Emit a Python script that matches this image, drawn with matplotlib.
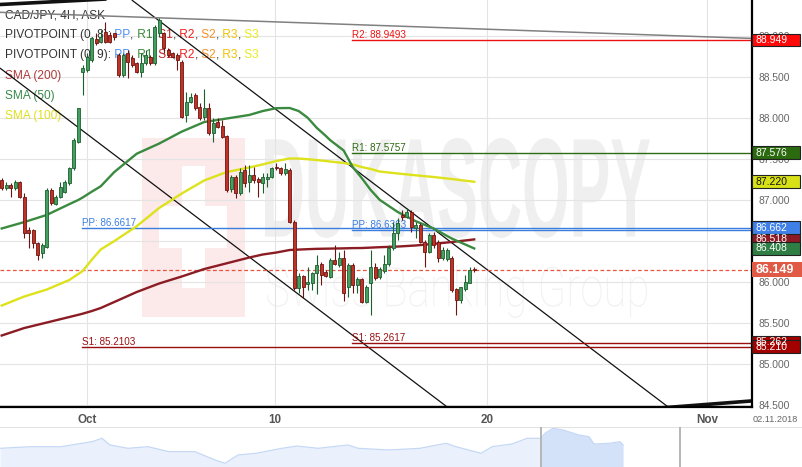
import matplotlib
matplotlib.use('Agg')
from matplotlib import pyplot as plt
from matplotlib.patches import Rectangle, PathPatch
from matplotlib.textpath import TextPath
from matplotlib.font_manager import FontProperties
from matplotlib.transforms import Affine2D, blended_transform_factory
import numpy as np


####################################################################################################
#                                             Setting                                              #
####################################################################################################
plt.rcParams['font.family'] = ['Liberation Sans', 'DejaVu Sans']

W, H = 803, 467
PLOT_R, PLOT_B = 752, 407


####################################################################################################
#                                             Variable                                             #
####################################################################################################
# CAD/JPY 4H candles (one entry per candle)
opens = [87.242, 87.140, 87.181, 87.140, 87.221, 87.039, 86.633, 86.633, 86.478, 86.348,
         86.429, 87.120, 86.949, 87.039, 87.100, 87.201, 87.384, 87.709, 88.562, 88.582,
         88.704, 88.956, 88.927, 89.049, 89.009, 89.029, 88.765, 88.521, 88.785, 88.724,
         88.663, 88.562, 88.663, 88.745, 88.663, 89.029, 89.029, 88.826, 88.785, 88.765,
         88.684, 88.034, 88.196, 88.277, 88.135, 88.005, 88.115, 87.810, 87.953, 87.900,
         87.778, 87.128, 87.282, 87.087, 87.364, 87.221, 87.303, 87.250, 87.201, 87.250,
         87.282, 87.404, 87.384, 87.323, 87.364, 86.734, 85.922, 86.072, 85.974, 85.991,
         86.110, 86.218, 86.124, 86.063, 86.267, 86.206, 86.291, 85.942, 86.206, 85.962,
         86.035, 85.759, 85.987, 86.182, 86.060, 86.137, 86.218, 86.413, 86.596, 86.815,
         86.795, 86.855, 86.657, 86.693, 86.490, 86.368, 86.572, 86.490, 86.291, 86.279,
         86.291, 85.914, 85.779, 85.914, 85.990, 86.160]
highs = [87.262, 87.221, 87.201, 87.242, 87.225, 87.079, 86.673, 86.640, 86.490, 86.470,
         87.140, 87.140, 87.059, 87.221, 87.242, 87.404, 87.749, 88.120, 88.643, 88.785,
         88.988, 89.029, 89.069, 89.171, 89.049, 89.035, 88.785, 88.785, 88.826, 88.765,
         88.684, 88.785, 88.826, 88.765, 89.130, 89.212, 89.049, 88.846, 88.805, 88.785,
         88.704, 88.318, 88.298, 88.298, 88.176, 88.347, 88.176, 87.993, 87.993, 87.973,
         87.790, 87.303, 87.303, 87.384, 87.425, 87.425, 87.404, 87.282, 87.323, 87.323,
         87.404, 87.445, 87.404, 87.453, 87.384, 86.754, 86.104, 86.084, 86.186, 86.125,
         86.330, 86.246, 86.145, 86.291, 86.450, 86.368, 86.389, 86.230, 86.230, 86.063,
         86.048, 85.962, 86.389, 86.230, 86.185, 86.328, 86.450, 86.734, 86.779, 86.876,
         86.901, 86.876, 86.734, 86.718, 86.511, 86.596, 86.612, 86.511, 86.429, 86.413,
         86.316, 85.926, 85.942, 86.084, 86.182, 86.182]
lows = [87.120, 87.120, 87.039, 87.120, 87.018, 86.531, 86.409, 86.409, 86.267, 86.287,
        86.409, 86.937, 86.937, 87.018, 87.079, 87.181, 87.364, 87.689, 88.277, 88.562,
        88.684, 88.887, 88.907, 88.907, 88.907, 88.948, 88.501, 88.501, 88.481, 88.623,
        88.541, 88.501, 88.643, 88.643, 88.643, 88.988, 88.785, 88.745, 88.724, 88.582,
        87.993, 87.953, 88.176, 88.095, 87.973, 87.973, 87.790, 87.709, 87.871, 87.749,
        87.100, 87.100, 87.018, 87.059, 87.161, 87.100, 87.201, 87.039, 87.087, 87.161,
        87.262, 87.364, 87.303, 87.303, 86.714, 85.901, 85.861, 85.800, 85.901, 85.901,
        85.850, 85.962, 86.060, 86.048, 86.206, 86.185, 85.771, 85.820, 85.865, 85.865,
        85.743, 85.743, 85.597, 86.023, 86.035, 86.112, 86.194, 86.389, 86.511, 86.754,
        86.779, 86.612, 86.535, 86.474, 86.185, 86.352, 86.413, 86.246, 86.267, 86.259,
        85.881, 85.597, 85.743, 85.893, 85.987, 86.121]
closes = [87.140, 87.181, 87.140, 87.221, 87.039, 86.592, 86.592, 86.470, 86.328, 86.450,
          87.120, 86.957, 87.039, 87.161, 87.221, 87.384, 87.729, 88.115, 88.602, 88.745,
          88.968, 88.907, 88.988, 88.927, 88.927, 88.988, 88.521, 88.765, 88.684, 88.643,
          88.562, 88.663, 88.765, 88.663, 89.110, 89.191, 88.846, 88.765, 88.745, 88.704,
          88.013, 88.196, 88.257, 88.115, 87.993, 88.115, 87.810, 87.932, 87.892, 87.770,
          87.120, 87.282, 87.079, 87.343, 87.201, 87.303, 87.242, 87.221, 87.274, 87.282,
          87.384, 87.384, 87.323, 87.372, 86.734, 85.922, 86.072, 85.942, 86.003, 86.113,
          86.210, 86.084, 86.072, 86.267, 86.218, 86.291, 85.865, 86.206, 85.962, 86.035,
          85.759, 85.938, 86.182, 86.048, 86.157, 86.218, 86.413, 86.596, 86.718, 86.795,
          86.855, 86.673, 86.693, 86.490, 86.368, 86.572, 86.450, 86.291, 86.389, 86.389,
          85.901, 85.779, 85.938, 86.002, 86.145, 86.149]

# moving averages, read at these candle numbers
sma_idx = [0, 5, 10, 15, 17, 18, 20, 22, 25, 30, 35, 40, 45, 50, 55, 58, 61, 64, 66, 68, 70, 72,
           73, 76, 78, 80, 82, 84, 88, 92, 96, 100, 105]
sma50 = [86.651, 86.729, 86.816, 86.947, 86.998, 87.029, 87.099, 87.165, 87.338, 87.562, 87.686,
         87.831, 87.948, 87.991, 88.034, 88.082, 88.117, 88.119, 88.082, 88.000, 87.878, 87.780,
         87.727, 87.601, 87.400, 87.266, 87.120, 87.000, 86.852, 86.740, 86.651, 86.529, 86.408]
sma100 = [85.712, 85.822, 85.907, 86.023, 86.096, 86.133, 86.269, 86.395, 86.497, 86.679, 86.901,
          87.077, 87.236, 87.339, 87.394, 87.431, 87.473, 87.504, 87.503, 87.495, 87.485, 87.473,
          87.467, 87.449, 87.431, 87.400, 87.376, 87.345, 87.321, 87.299, 87.278, 87.254, 87.220]
sma200 = [85.347, 85.438, 85.505, 85.572, 85.599, 85.613, 85.645, 85.682, 85.755, 85.877, 85.981,
          86.066, 86.157, 86.227, 86.297, 86.334, 86.358, 86.389, 86.394, 86.399, 86.403, 86.405,
          86.406, 86.409, 86.412, 86.413, 86.418, 86.423, 86.431, 86.444, 86.464, 86.486, 86.518]

# pivot points (weekly sets)
pivot_start = [17.8, 77.8]
pivot_names = [['PP', 'S1'], ['R2', 'R1', 'PP', 'S1']]
pivot_values = [[86.6617, 85.2103], [88.9493, 87.5757, 86.6363, 85.2617]]

# hand drawn trend lines (candle number, price)
channel_upper = [(28.9, 89.435), (148.1, 84.476)]
channel_lower = [(-0.4, 88.606), (99.0, 84.476)]
top_line = [(-0.4, 89.285), (166.7, 88.967)]
thick_top = [(-0.4, 89.380), (25.0, 89.452)]
thick_bottom = [(141.9, 84.445), (166.7, 84.550)]

last_price = 86.149

tick_pos = [19, 60.7, 107.9, 156.7]
tick_labels = ['Oct', '10', '20', 'Nov']
y_ticks = [84.5, 85.0, 85.5, 86.0, 86.5, 87.0, 87.5, 88.0, 88.5, 89.0]

# price tags on the right axis
tag_values = [88.949, 87.576, 87.220, 85.262, 85.210, 86.518, 86.662, 86.408]
tag_colors = ['#ff0a0a', '#2b6a0e', '#d8e016', '#a30000', '#a30000', '#8b1a24', '#3e80e8', '#2f7f45']
tag_text = ['white', 'white', '#111111', 'white', 'white', 'white', 'white', 'white']

# navigator (overview) series
nav_t = [0, 31, 61, 92, 102, 110, 128, 148, 169, 195, 215, 225, 238, 256, 282, 297, 318, 348, 358,
         389, 420, 446, 456, 481, 492, 512, 527, 541, 545, 553, 563, 579, 589, 594, 609, 620, 623]
nav_v = [18.7, 20.3, 20.3, 25.3, 28.7, 22.0, 18.7, 20.3, 15.3, 15.3, 7.0, 3.7, 12.0, 13.7, 18.7,
         21.0, 18.7, 22.0, 18.7, 17.0, 18.7, 23.7, 20.3, 13.7, 20.3, 23.0, 28.7, 28.7, 33.7, 38.7,
         37.0, 32.0, 30.3, 23.0, 23.7, 25.3, 22.0]


####################################################################################################
#                                             Function                                             #
####################################################################################################
def stamp(ax, text, box, prop, color):
    # squeeze a text outline into a pixel box (left, top, right, bottom)
    x0, y0, x1, y1 = box
    tp = TextPath((0, 0), text, size=100, prop=prop)
    ext = tp.get_extents()
    tr = Affine2D().translate(-ext.x0, -ext.y0).scale((x1 - x0) / ext.width,
                                                       -(y1 - y0) / ext.height).translate(x0, y1)
    ax.add_patch(PathPatch(tr.transform_path(tp), fc=color, ec='none', zorder=0))


def colored_line(ax, fig, renderer, x_px, y_px, parts, size):
    x = x_px / W
    for s, c in parts:
        t = ax.text(x, 1 - y_px / H, s, color=c, fontsize=size, va='center', ha='left',
                    transform=fig.transFigure, zorder=1.5)
        x += t.get_window_extent(renderer).width / fig.bbox.width


####################################################################################################
#                                             Plot                                                 #
####################################################################################################
fig = plt.figure(figsize=(W / 100, H / 100), dpi=100)
fig.patch.set_facecolor('white')

# background: watermark
bg = fig.add_axes([0, 0, 1, 1], zorder=0)
bg.set_xlim(0, W)
bg.set_ylim(H, 0)
bg.axis('off')
bg.add_patch(Rectangle((142, 138), 103, 179, fc='#fce9e9', ec='none', zorder=0))
bg.add_patch(Rectangle((182, 166), 23, 122, fc='white', ec='none', zorder=0.1))
bg.add_patch(Rectangle((159, 206), 68, 42, fc='white', ec='none', zorder=0.1))
stamp(bg, 'DUKASCOPY', (265, 138, 650, 238), FontProperties(family='Liberation Sans', weight='bold'),
      '#efefef')
stamp(bg, 'Swiss Banking Group', (267, 265, 647, 318), FontProperties(family='Roboto', weight='light'),
      '#f2f2f2')

# main chart
ax = fig.add_axes([0, 1 - PLOT_B / H, PLOT_R / W, PLOT_B / H], zorder=1)
ax.set_facecolor('none')
ax.set_xlim(-0.378, 166.73)
ax.set_ylim(84.476, 89.435)

ax.set_yticks(y_ticks)
ax.set_yticklabels(['%.3f' % v for v in y_ticks])
ax.yaxis.tick_right()
ax.set_xticks(tick_pos)
ax.set_xticklabels(tick_labels, fontweight='bold')
ax.tick_params(axis='y', length=0, pad=5, labelsize=7.4, labelcolor='#666666')
ax.tick_params(axis='x', length=0, pad=5, labelsize=8.4, labelcolor='#555555')
ax.grid(True, color='#e4e4e4', lw=0.8, zorder=0.5)
ax.set_axisbelow(True)
for side in ['top', 'left']:
    ax.spines[side].set_visible(False)
ax.spines['right'].set_linewidth(1.6)
ax.spines['bottom'].set_linewidth(1.6)

# legend block
renderer = fig.canvas.get_renderer()
dark = '#333333'
colored_line(ax, fig, renderer, 5, 15, [('CAD/JPY, 4H, ASK', dark)], 8.6)
piv_parts = [(' PP', '#4d8ff0'), (',', dark), (' R1', '#3a8a3a'), (',', dark), (' S1', '#c02020'),
             (',', dark), (' R2', '#ee2222'), (',', dark), (' S2', '#f5922a'), (',', dark),
             (' R3', '#f2c200'), (',', dark), (' S3', '#eaea20')]
colored_line(ax, fig, renderer, 5, 35, [('PIVOTPOINT (0, 8):', dark)] + piv_parts, 8.6)
colored_line(ax, fig, renderer, 5, 55, [('PIVOTPOINT (0, 9):', dark)] + piv_parts, 8.6)
colored_line(ax, fig, renderer, 5, 76, [('SMA (200)', '#b03a3a')], 8.6)
colored_line(ax, fig, renderer, 5, 96, [('SMA (50)', '#3a8a4a')], 8.6)
colored_line(ax, fig, renderer, 5, 116, [('SMA (100)', '#e0e020')], 8.6)

# trend lines
for pts, c, lw in [(channel_upper, '#111111', 0.9), (channel_lower, '#111111', 0.9),
                   (top_line, '#808080', 1.1), (thick_top, '#111111', 2.6),
                   (thick_bottom, '#111111', 2.6)]:
    ax.plot([p[0] for p in pts], [p[1] for p in pts], color=c, lw=lw, zorder=2,
            solid_capstyle='butt')

# pivot lines
piv_colors = {'R2': '#ee1111', 'R1': '#2e6b12', 'PP': '#3a7ee0', 'S1': '#990f0f'}
for start, names, vals in zip(pivot_start, pivot_names, pivot_values):
    for n, v in zip(names, vals):
        ax.plot([start, 166.73], [v, v], color=piv_colors[n], lw=1.0, zorder=2)
        ax.text(start, v + 0.022, '%s: %.4f' % (n, v), color=piv_colors[n], fontsize=7.1,
                va='baseline', ha='left', zorder=2)

# current price
ax.axhline(last_price, color='#e8553f', lw=0.9, ls=(0, (3, 2)), zorder=2)

# moving averages
ax.plot(sma_idx, sma200, color='#8b1c24', lw=1.7, zorder=2.5, solid_joinstyle='round')
ax.plot(sma_idx, sma100, color='#dde21c', lw=1.7, zorder=2.5, solid_joinstyle='round')
ax.plot(sma_idx, sma50, color='#3a8a3f', lw=1.7, zorder=2.5, solid_joinstyle='round')

# candles
idx = np.arange(len(opens))
o = np.array(opens)
c = np.array(closes)
up = c >= o
fill = np.where(up, '#43a061', '#bf3326')
edge = np.where(up, '#1d5e2f', '#6e1410')
ax.vlines(idx, lows, highs, colors=edge, lw=0.8, zorder=3)
ax.bar(idx, np.maximum(np.abs(c - o), 0.01), bottom=np.minimum(o, c), width=0.72,
       color=fill, edgecolor=edge, linewidth=0.6, zorder=3.1)

# price tags on the right axis
bt = blended_transform_factory(ax.transAxes, ax.transData)
hh = 6.3 / 82.07
tag_w = 48 / PLOT_R
for v, fc, tc in zip(tag_values, tag_colors, tag_text):
    ax.add_patch(Rectangle((1.0, v - hh), tag_w, 2 * hh, transform=bt, fc=fc, ec='#222222',
                           lw=0.8, clip_on=False, zorder=4))
    ax.text(1.0 + 4 / PLOT_R, v, '%.3f' % v, transform=bt, color=tc, fontsize=7.5, va='center',
            ha='left', clip_on=False, zorder=4.1)
ax.add_patch(Rectangle((1.0, last_price - 7.2 / 82.07), 51 / PLOT_R, 14.4 / 82.07, transform=bt,
                       fc='#e05a45', ec='none', clip_on=False, zorder=4))
ax.text(1.0 + 4 / PLOT_R, last_price, '%.3f' % last_price, transform=bt, color='white', fontsize=9,
        fontweight='bold', va='center', ha='left', clip_on=False, zorder=4.1)

fig.text(753 / W, 1 - 419 / H, '02.11.2018', fontsize=6.6, color='#666666', va='center', ha='left')

# navigator
nav = fig.add_axes([0, 0, 1, 40 / H], zorder=1)
nav.set_xlim(0, W)
nav.set_ylim(0, 40)
nav.axis('off')
nav.fill_between(nav_t, nav_v, 0, color='#eaf1fc', lw=0)
sel = [i for i, t in enumerate(nav_t) if t >= 541]
nav.fill_between([nav_t[i] for i in sel], [nav_v[i] for i in sel], 0, color='#d3e2f9', lw=0)
nav.plot(nav_t, nav_v, color='#c5d8f5', lw=0.9)
nav.axhline(39.6, color='#e2e2e2', lw=0.8)
for xs in [541, 680]:
    nav.axvline(xs, color='#b5b5b5', lw=1.4)

plt.savefig('out.png', dpi=100)
plt.close()
